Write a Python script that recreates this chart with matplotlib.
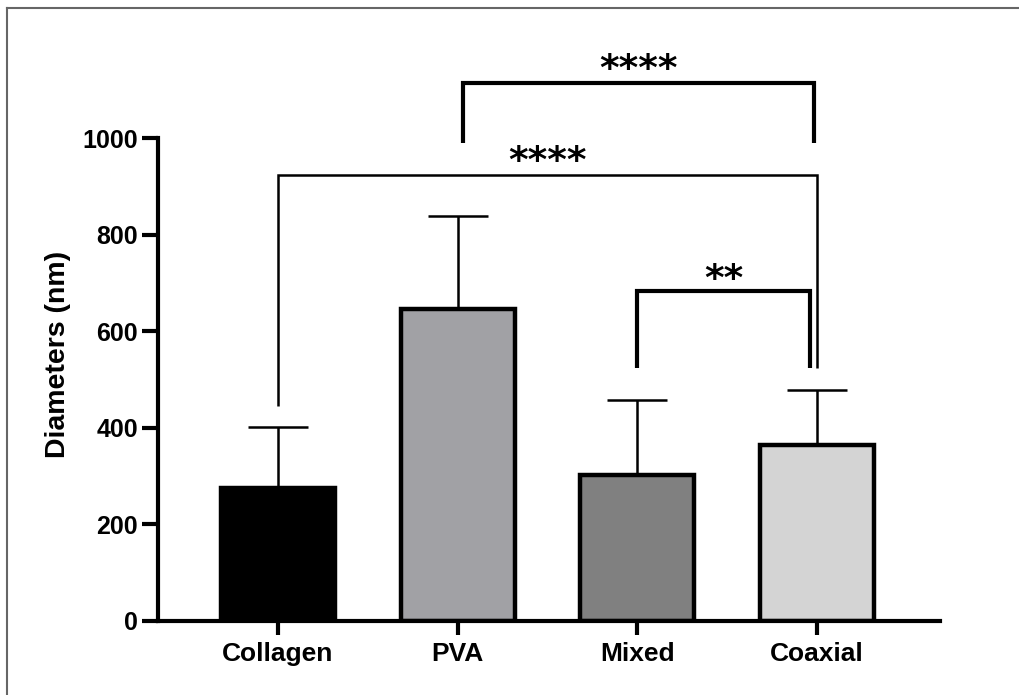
import matplotlib
matplotlib.use('Agg')
import matplotlib.pyplot as plt
from matplotlib.lines import Line2D
import numpy as np

plt.rcParams['font.family'] = ['Liberation Sans', 'DejaVu Sans']
plt.rcParams['font.weight'] = 'bold'

# data
groups = ['Collagen', 'PVA', 'Mixed', 'Coaxial']
means = [274, 646, 301, 364]
sds = [127, 192, 156, 114]
colors = ['#000000', '#a1a1a5', '#808080', '#d4d4d4']

# significance brackets: (x left, x right, y top, left leg bottom, right leg bottom, label, label baseline, thick?)
brackets = [
    (1.03, 2.98, 1113, 989, 989, '****', 1120, True),
    (0.0, 3.0, 923, 445, 523, '****', 930, False),
    (2.0, 2.96, 682, 523, 523, '**', 686, True),
]

fig = plt.figure(figsize=(10.2, 6.95), dpi=100)
ax = fig.add_axes([158/1020, 1-620.7/695, (940-158)/1020, (620.7-138)/695])

x = np.arange(len(groups))

# upper error bars only
ax.errorbar(x, means, yerr=[np.zeros(len(sds)), sds], fmt='none', ecolor='black',
            elinewidth=1.8, capsize=21.5, capthick=1.8, zorder=1)
ax.bar(x, means, width=0.635, color=colors, edgecolor='black', linewidth=3.2, zorder=2)

for x1, x2, ytop, yb1, yb2, lab, ylab, thick in brackets:
    lw = 3.0 if thick else 1.8
    ax.plot([x1, x1, x2, x2], [yb1, ytop, ytop, yb2], color='black', lw=lw,
            clip_on=False, solid_joinstyle='miter', solid_capstyle='butt')
    ax.text((x1+x2)/2, ylab, lab, ha='center', va='baseline', fontsize=27,
            fontweight='bold', family='DejaVu Sans', clip_on=False)

ax.set_xlim(-0.668, 3.684)
ax.set_ylim(0, 1000)
ax.set_yticks([0, 200, 400, 600, 800, 1000])
ax.set_xticks(x)
ax.set_xticklabels(groups)

for s in ['top', 'right']:
    ax.spines[s].set_visible(False)
for s in ['left', 'bottom']:
    ax.spines[s].set_linewidth(3.0)

ax.tick_params(axis='y', length=11.5, width=3.0, pad=3, labelsize=18)
ax.tick_params(axis='x', length=10, width=3.0, pad=5, labelsize=19)
for t in ax.get_xticklabels() + ax.get_yticklabels():
    t.set_fontweight('bold')

fig.text(58/1020, 1-354/695, 'Diameters (nm)', rotation=90, ha='center', va='center',
         fontsize=20.5, fontweight='bold')

# thin grey frame on top and left
fig.add_artist(Line2D([7.5/1020, 1], [1-7.5/695, 1-7.5/695], color='#666666', lw=1.5))
fig.add_artist(Line2D([7.5/1020, 7.5/1020], [0, 1-7.5/695], color='#666666', lw=1.5))

fig.savefig('out.png', dpi=100)
